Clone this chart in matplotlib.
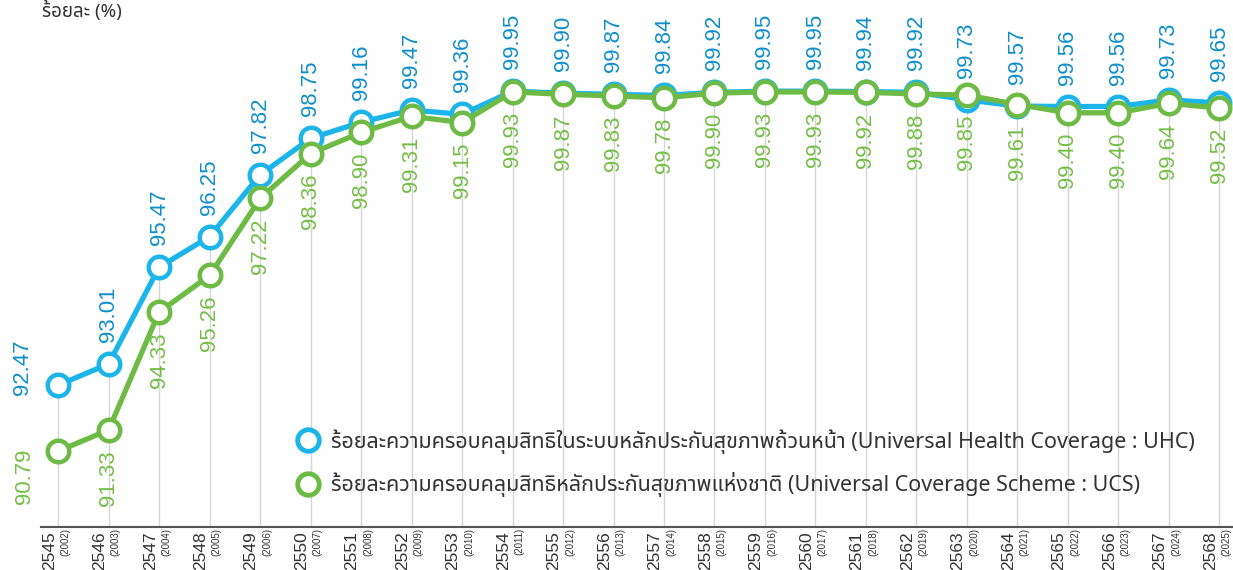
import numpy as np
import matplotlib
matplotlib.use('Agg')
import matplotlib.pyplot as plt
from matplotlib import font_manager
from matplotlib.lines import Line2D
from matplotlib.transforms import blended_transform_factory, offset_copy

# data
years_be = [2545, 2546, 2547, 2548, 2549, 2550, 2551, 2552, 2553, 2554, 2555, 2556,
            2557, 2558, 2559, 2560, 2561, 2562, 2563, 2564, 2565, 2566, 2567, 2568]
years_ce = [2002, 2003, 2004, 2005, 2006, 2007, 2008, 2009, 2010, 2011, 2012, 2013,
            2014, 2015, 2016, 2017, 2018, 2019, 2020, 2021, 2022, 2023, 2024, 2025]
uhc = [92.47, 93.01, 95.47, 96.25, 97.82, 98.75, 99.16, 99.47, 99.36, 99.95, 99.90, 99.87,
       99.84, 99.92, 99.95, 99.95, 99.94, 99.92, 99.73, 99.57, 99.56, 99.56, 99.73, 99.65]
ucs = [90.79, 91.33, 94.33, 95.26, 97.22, 98.36, 98.90, 99.31, 99.15, 99.93, 99.87, 99.83,
       99.78, 99.90, 99.93, 99.93, 99.92, 99.88, 99.85, 99.61, 99.40, 99.40, 99.64, 99.52]

uhc_label = 'ร้อยละความครอบคลุมสิทธิในระบบหลักประกันสุขภาพถ้วนหน้า (Universal Health Coverage : UHC)'
ucs_label = 'ร้อยละความครอบคลุมสิทธิหลักประกันสุขภาพแห่งชาติ (Universal Coverage Scheme : UCS)'
y_title = 'ร้อยละ (%)'

BLUE = '#1bb5ea'
BLUE_TXT = '#0d8fcc'
GREEN = '#6dbb45'
GREEN_TXT = '#74be45'
GREY_TXT = '#333333'


def find_thai_font():
    # look through installed fonts for one that has Thai glyphs
    try:
        from fontTools.ttLib import TTFont
    except ImportError:
        return None
    found = []
    for f in font_manager.fontManager.ttflist:
        try:
            tt = TTFont(f.fname, fontNumber=0, lazy=True)
            cmap = tt.getBestCmap()
        except Exception:
            continue
        if cmap and 0x0E23 in cmap:
            found.append(f.name)
    for pref in ['Noto Sans Thai', 'Noto Sans Thai Looped', 'Noto Sans', 'Loma', 'Garuda']:
        if pref in found:
            return pref
    return found[0] if found else None


thai = find_thai_font()
thai_family = ([thai] if thai else []) + ['Liberation Sans', 'DejaVu Sans']
num_family = ['Liberation Sans', 'DejaVu Sans']

fig = plt.figure(figsize=(12.33, 5.70), dpi=100)
W, H = 1233, 570
ax = fig.add_axes([41 / W, 43 / H, 1 - 41 / W, 527 / H])

x = np.arange(len(years_be))
ymin, ymax = 88.86, 102.27
ax.set_xlim(-0.34, len(x) - 0.73)
ax.set_ylim(ymin, ymax)

top = np.maximum(uhc, ucs)
ax.vlines(x, ymin, top, color='#d6d6d6', lw=1, zorder=0)

ax.plot(x, uhc, color=BLUE, lw=3.8, marker='o', ms=15.5, mfc='white', mec=BLUE, mew=3.2,
        zorder=3, solid_capstyle='round')
ax.plot(x, ucs, color=GREEN, lw=3.8, marker='o', ms=15.5, mfc='white', mec=GREEN, mew=3.2,
        zorder=4, solid_capstyle='round')

for i in range(len(x)):
    if i == 0:
        bdx, bdy, gdx, gdy = -36, -10, -34, 3
    else:
        bdx, bdy, gdx, gdy = 0, 22, 0, -20
    ax.annotate(f'{uhc[i]:.2f}', (x[i], uhc[i]), xytext=(bdx, bdy), textcoords='offset pixels',
                rotation=90, ha='center', va='bottom', fontsize=16, color=BLUE_TXT,
                family=num_family, zorder=5)
    ax.annotate(f'{ucs[i]:.2f}', (x[i], ucs[i]), xytext=(gdx, gdy), textcoords='offset pixels',
                rotation=90, ha='center', va='top', fontsize=16, color=GREEN_TXT,
                family=num_family, zorder=5)

# x tick labels: Buddhist year + small Gregorian year
ax.set_xticks(x)
ax.set_xticklabels([])
ax.tick_params(axis='x', length=0)
ax.set_yticks([])
trans = blended_transform_factory(ax.transData, ax.transAxes)
for i in range(len(x)):
    t1 = offset_copy(trans, fig=fig, x=-9, y=-4, units='dots')
    ax.text(x[i], 0, str(years_be[i]), transform=t1, rotation=90, ha='center', va='top',
            fontsize=12.5, color=GREY_TXT, family=num_family, clip_on=False)
    t2 = offset_copy(trans, fig=fig, x=7, y=-1, units='dots')
    ax.text(x[i], 0, f'({years_ce[i]})', transform=t2, rotation=90, ha='center', va='top',
            fontsize=7, color=GREY_TXT, family=num_family, clip_on=False)

for s in ['top', 'right', 'left']:
    ax.spines[s].set_visible(False)
ax.spines['bottom'].set_color('#555555')
ax.spines['bottom'].set_linewidth(1.5)

handles = [
    Line2D([], [], ls='none', marker='o', ms=15.5, mfc='white', mec=BLUE, mew=3.5),
    Line2D([], [], ls='none', marker='o', ms=15.5, mfc='white', mec=GREEN, mew=3.5),
]
leg = ax.legend(handles, [uhc_label, ucs_label], loc='upper left',
                bbox_to_anchor=(278 / W, 1 - 410 / H), bbox_transform=fig.transFigure,
                frameon=False, handlelength=1.0, handletextpad=0.55, labelspacing=0.85,
                prop={'family': thai_family, 'size': 15.5})
for t in leg.get_texts():
    t.set_color(GREY_TXT)

fig.text(42 / W, 1 - 1 / H, y_title, ha='left', va='top', fontsize=13.5, color=GREY_TXT,
         family=thai_family)

fig.savefig('out.png', dpi=100)
